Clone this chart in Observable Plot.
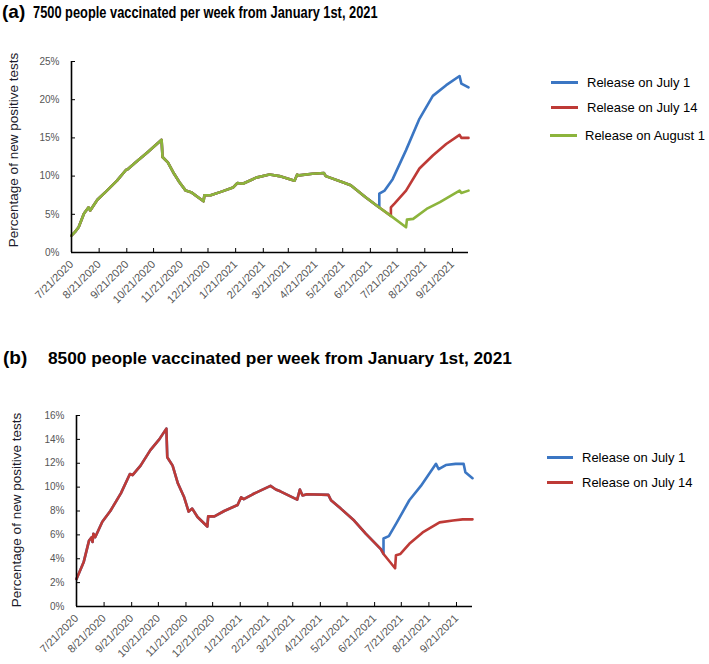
<!DOCTYPE html>
<html>
<head>
<meta charset="utf-8">
<script src="https://cdn.jsdelivr.net/npm/d3@7"></script>
<script src="https://cdn.jsdelivr.net/npm/@observablehq/plot@0.6"></script>
<style>
  body { margin: 0; background: #fff; font-family: "Liberation Sans", Arial, sans-serif; }
  #page { position: relative; width: 709px; height: 664px; overflow: hidden; background: #fff; }
  .abs { position: absolute; white-space: nowrap; line-height: 1; }
  .tag { font-weight: bold; font-size: 19px; color: #000; }
  .ttl { font-weight: bold; font-size: 17px; color: #000; transform-origin: left center; }
  .ylab { font-size: 13.5px; color: #1b1b2b; transform: translate(-50%, -50%) rotate(-90deg); }
  .leg { display: flex; align-items: center; font-size: 13px; color: #000; }
  .leg span.sw { display: inline-block; height: 3px; margin-right: 9px; }
  .chart { position: absolute; left: 0; }
</style>
</head>
<body>
<div id="page"></div>
<script>
// ---------- data ----------
const seriesNames = ["Release on July 1", "Release on July 14", "Release on August 1"];
const seriesColors = ["#3b76c3", "#be3a36", "#8cb43c"];
const releaseDates = ["2021-07-01", "2021-07-14", "2021-08-01"];

const xTickDates = ["2020-07-21","2020-08-21","2020-09-21","2020-10-21","2020-11-21","2020-12-21",
  "2021-01-21","2021-02-21","2021-03-21","2021-04-21","2021-05-21","2021-06-21","2021-07-21",
  "2021-08-21","2021-09-21"];
const xDomain = ["2020-07-21", "2021-10-09"];
const yTicksA = [0, 5, 10, 15, 20, 25];
const yTicksB = [0, 2, 4, 6, 8, 10, 12, 14, 16];

// Panel (a): 7500 per week — common path (before each release) and branches
const aBase = [
  ["2020-07-21", 2.2], ["2020-07-25", 2.7], ["2020-07-29", 3.3], ["2020-08-04", 5.1],
  ["2020-08-09", 5.9], ["2020-08-11", 5.5], ["2020-08-19", 6.9], ["2020-08-28", 7.9],
  ["2020-09-10", 9.4], ["2020-09-20", 10.8], ["2020-09-22", 10.9], ["2020-10-01", 11.8],
  ["2020-10-14", 13.1], ["2020-10-30", 14.75], ["2020-10-31", 12.5], ["2020-11-06", 11.8],
  ["2020-11-13", 10.3], ["2020-11-19", 9.2], ["2020-11-26", 8.1], ["2020-12-02", 7.9],
  ["2020-12-16", 6.7], ["2020-12-17", 7.5], ["2020-12-24", 7.5], ["2021-01-06", 8.0],
  ["2021-01-18", 8.5], ["2021-01-23", 9.1], ["2021-01-29", 9.0], ["2021-02-13", 9.8],
  ["2021-02-28", 10.2], ["2021-03-11", 10.0], ["2021-03-28", 9.4], ["2021-03-31", 10.2],
  ["2021-04-02", 10.1], ["2021-04-17", 10.3], ["2021-04-30", 10.4], ["2021-05-02", 10.0],
  ["2021-05-21", 9.2], ["2021-05-30", 8.8], ["2021-06-16", 7.2], ["2021-07-01", 5.9],
  ["2021-07-14", 4.8], ["2021-07-31", 3.3]
];
const aJuly1 = [
  ["2021-07-01", 7.7], ["2021-07-07", 8.1], ["2021-07-16", 9.6], ["2021-07-31", 13.4],
  ["2021-08-15", 17.5], ["2021-08-30", 20.5], ["2021-09-14", 21.9], ["2021-09-29", 23.1],
  ["2021-10-01", 22.1], ["2021-10-09", 21.6]
];
const aJuly14 = [
  ["2021-07-14", 5.9], ["2021-07-18", 6.4], ["2021-07-31", 8.1], ["2021-08-15", 11.0],
  ["2021-08-30", 12.7], ["2021-09-14", 14.2], ["2021-09-29", 15.4], ["2021-10-01", 15.0],
  ["2021-10-09", 15.0]
];
const aAug1 = [
  ["2021-08-01", 4.3], ["2021-08-08", 4.4], ["2021-08-23", 5.7], ["2021-09-07", 6.6],
  ["2021-09-29", 8.1], ["2021-10-01", 7.8], ["2021-10-09", 8.1]
];

// Panel (b): 8500 per week
const bBase = [
  ["2020-07-21", 2.3], ["2020-07-29", 3.7], ["2020-08-04", 5.5], ["2020-08-07", 5.8],
  ["2020-08-08", 5.4], ["2020-08-09", 6.1], ["2020-08-11", 5.8], ["2020-08-19", 7.1],
  ["2020-08-28", 8.0], ["2020-09-09", 9.5], ["2020-09-19", 11.1], ["2020-09-22", 11.0],
  ["2020-10-01", 11.8], ["2020-10-12", 13.1], ["2020-10-22", 14.0], ["2020-10-30", 14.9],
  ["2020-10-31", 12.5], ["2020-11-06", 11.8], ["2020-11-12", 10.3], ["2020-11-19", 9.15],
  ["2020-11-24", 7.95], ["2020-11-28", 8.2], ["2020-12-04", 7.5], ["2020-12-15", 6.7],
  ["2020-12-16", 7.55], ["2020-12-23", 7.55], ["2021-01-03", 8.0], ["2021-01-18", 8.5],
  ["2021-01-22", 9.15], ["2021-01-25", 9.0], ["2021-02-04", 9.4], ["2021-02-24", 10.1],
  ["2021-03-02", 9.8], ["2021-03-07", 9.65], ["2021-03-26", 8.95], ["2021-03-29", 9.8],
  ["2021-04-01", 9.3], ["2021-04-06", 9.4], ["2021-04-30", 9.35], ["2021-05-03", 8.9],
  ["2021-05-14", 8.2], ["2021-05-29", 7.2], ["2021-06-11", 6.1], ["2021-06-28", 4.8],
  ["2021-07-01", 4.4], ["2021-07-14", 3.2]
];
const bJuly1 = [
  ["2021-07-01", 5.7], ["2021-07-07", 5.9], ["2021-07-16", 7.05], ["2021-07-30", 8.9],
  ["2021-08-12", 10.1], ["2021-08-29", 11.95], ["2021-09-01", 11.5], ["2021-09-09", 11.85],
  ["2021-09-20", 11.95], ["2021-09-29", 11.95], ["2021-10-01", 11.25], ["2021-10-09", 10.75]
];
const bJuly14 = [
  ["2021-07-15", 4.3], ["2021-07-20", 4.4], ["2021-07-30", 5.25], ["2021-08-14", 6.2],
  ["2021-09-02", 7.05], ["2021-09-17", 7.2], ["2021-09-28", 7.3], ["2021-10-09", 7.3]
];

// ---------- helpers ----------
const parse = s => new Date(s + "T00:00:00Z");
const fmt = d3.utcFormat("%-m/%-d/%Y");

function build(base, branch, release, name) {
  const r = parse(release);
  return base.filter(([d]) => parse(d) <= r)
    .concat(branch)
    .map(([d, v]) => ({date: parse(d), value: v, series: name}));
}

const page = document.getElementById("page");
function addDiv(cls, text, style) {
  const el = document.createElement("div");
  el.className = "abs " + cls;
  el.textContent = text;
  Object.assign(el.style, style);
  page.appendChild(el);
  return el;
}

function makeChart({rows, yTicks, yMax, names, colors, top, height, mL, mR, mT, mB}) {
  const x0 = parse(xDomain[0]);
  const svg = Plot.plot({
    width: 709, height,
    marginLeft: mL, marginRight: mR, marginTop: mT, marginBottom: mB,
    style: {fontFamily: "'Liberation Sans', Arial, sans-serif", fontSize: "10px", color: "#555", background: "transparent", overflow: "visible"},
    x: {type: "utc", domain: xDomain.map(parse)},
    y: {domain: [0, yMax]},
    color: {domain: names, range: colors},
    marks: [
      Plot.axisX({ticks: xTickDates.map(parse), tickFormat: fmt, tickRotate: -45, tickSize: -4, tickPadding: 14, fontSize: 11, stroke: "#000", fill: "#555", label: null}),
      Plot.axisY({ticks: yTicks, tickFormat: d => d + "%", tickSize: -4, tickPadding: 16, stroke: "#000", fill: "#555", label: null}),
      Plot.line(rows, {x: "date", y: "value", z: "series", stroke: "series", strokeWidth: 2.6, strokeLinejoin: "round"}),
      Plot.ruleY([0], {stroke: "#000", strokeWidth: 1.6}),
      Plot.ruleX([x0], {stroke: "#000", strokeWidth: 1.6})
    ]
  });
  svg.classList.add("chart");
  svg.style.top = top + "px";
  page.appendChild(svg);
}

// ---------- panel (a) ----------
const rowsA = [
  ...build(aBase, aJuly1, releaseDates[0], seriesNames[0]),
  ...build(aBase, aJuly14, releaseDates[1], seriesNames[1]),
  ...build(aBase, aAug1, releaseDates[2], seriesNames[2])
];
makeChart({rows: rowsA, yTicks: yTicksA, yMax: 25, names: seriesNames, colors: seriesColors,
  top: 40, height: 280, mL: 71, mR: 241, mT: 21, mB: 68});

addDiv("tag", "(a)", {left: "2px", top: "2px"});
addDiv("ttl", "7500 people vaccinated per week from January 1st, 2021", {left: "33px", top: "4px", transform: "scaleX(0.755)"});
addDiv("ylab", "Percentage of new positive tests", {left: "13.5px", top: "150px"});

const legA = [[82, 551, 587], [107, 551, 587], [135, 550, 585]];
seriesNames.forEach((n, i) => {
  const [cy, lx, tx] = legA[i];
  const el = addDiv("leg", "", {left: lx + "px", top: (cy - 8) + "px", height: "16px"});
  const sw = document.createElement("span");
  sw.className = "sw"; sw.style.width = "27px"; sw.style.background = seriesColors[i];
  sw.style.marginRight = (tx - lx - 27) + "px";
  el.appendChild(sw);
  el.appendChild(document.createTextNode(n));
});

// ---------- panel (b) ----------
const namesB = seriesNames.slice(0, 2);
const colorsB = seriesColors.slice(0, 2);
const rowsB = [
  ...build(bBase, bJuly1, releaseDates[0], namesB[0]),
  ...build(bBase, bJuly14, releaseDates[1], namesB[1])
];
makeChart({rows: rowsB, yTicks: yTicksB, yMax: 16, names: namesB, colors: colorsB,
  top: 400, height: 264, mL: 76, mR: 237, mT: 15, mB: 58});

addDiv("tag", "(b)", {left: "3px", top: "348px"});
addDiv("ttl", "8500 people vaccinated per week from January 1st, 2021", {left: "48px", top: "349.5px", fontSize: "17.3px"});
addDiv("ylab", "Percentage of new positive tests", {left: "16.5px", top: "510px"});

const legB = [[457, 547, 582], [482, 547, 582]];
namesB.forEach((n, i) => {
  const [cy, lx, tx] = legB[i];
  const el = addDiv("leg", "", {left: lx + "px", top: (cy - 8) + "px", height: "16px"});
  const sw = document.createElement("span");
  sw.className = "sw"; sw.style.width = "26px"; sw.style.background = colorsB[i];
  sw.style.marginRight = (tx - lx - 26) + "px";
  el.appendChild(sw);
  el.appendChild(document.createTextNode(n));
});
</script>
</body>
</html>
